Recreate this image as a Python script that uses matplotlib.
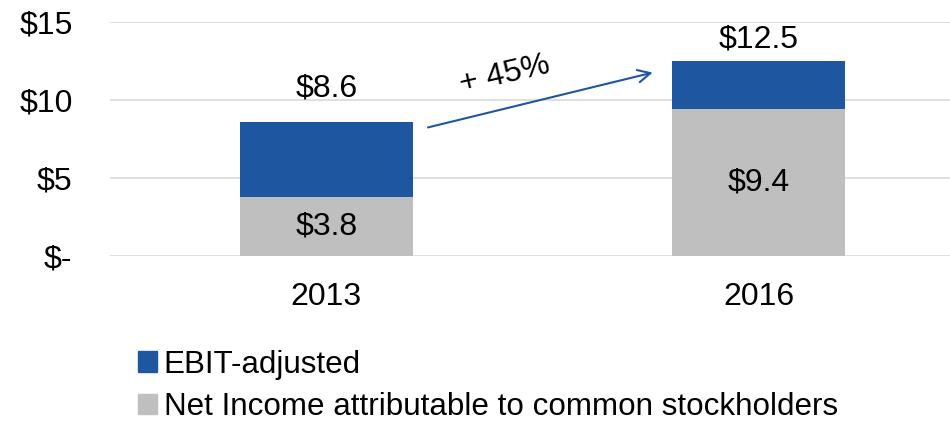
import matplotlib.pyplot as plt
from matplotlib.patches import Patch

plt.rcParams['font.family'] = ['Liberation Sans', 'DejaVu Sans']

years = ['2013', '2016']
net_income = [3.8, 9.4]
ebit_total = [8.6, 12.5]
ebit_extra = [t - n for t, n in zip(ebit_total, net_income)]
growth_label = '+ 45%'
y_ticks = [0, 5, 10, 15]
y_tick_labels = ['$-', '$5', '$10', '$15']
series_names = ['EBIT-adjusted', 'Net Income attributable to common stockholders']

blue = '#1f56a0'
gray = '#bfbfbf'
fs = 23

fig = plt.figure(figsize=(9.5, 4.21), dpi=100)
ax = fig.add_axes([110 / 950, 1 - 256 / 421, 865 / 950, 234 / 421])

x = list(range(len(years)))
ax.bar(x, net_income, width=0.4, color=gray, zorder=2)
ax.bar(x, ebit_extra, width=0.4, bottom=net_income, color=blue, zorder=2)

ax.set_xlim(-0.5, 1.5)
ax.set_ylim(0, 15)
ax.set_yticks(y_ticks)
ax.set_yticklabels(y_tick_labels)
ax.set_xticks(x)
ax.set_xticklabels(years)
ax.tick_params(axis='both', length=0, labelsize=fs)
ax.tick_params(axis='x', pad=19)
ax.tick_params(axis='y', pad=27)
ax.grid(axis='y', color='#d9d9d9', linewidth=1.2, zorder=0)
for s in ax.spines.values():
    s.set_visible(False)

# total labels above the bars, net income inside the gray part
top_offsets = [33, 22]
for i in x:
    ax.annotate(f'${ebit_total[i]}', (i, ebit_total[i]), xytext=(0, top_offsets[i]),
                textcoords='offset pixels', ha='center', va='center', fontsize=fs)
    ax.text(i, net_income[i] / 2, f'${net_income[i]}', ha='center', va='center', fontsize=fs)

# growth arrow
ax.annotate('', xy=(0.761, 11.8), xytext=(0.229, 8.2),
            arrowprops=dict(arrowstyle='->,head_length=0.9,head_width=0.45', color=blue, lw=1.5))
ax.text(0.414, 11.6, growth_label, rotation=13, ha='center', va='center', fontsize=fs)

handles = [Patch(color=blue), Patch(color=gray)]
fig.legend(handles, series_names, loc='upper left', bbox_to_anchor=(125 / 950, 1 - 337 / 421),
           frameon=False, fontsize=22.6, handlelength=0.63, handleheight=0.63,
           handletextpad=0.2, labelspacing=0.4, borderaxespad=0)

fig.savefig('out.png', dpi=100)
